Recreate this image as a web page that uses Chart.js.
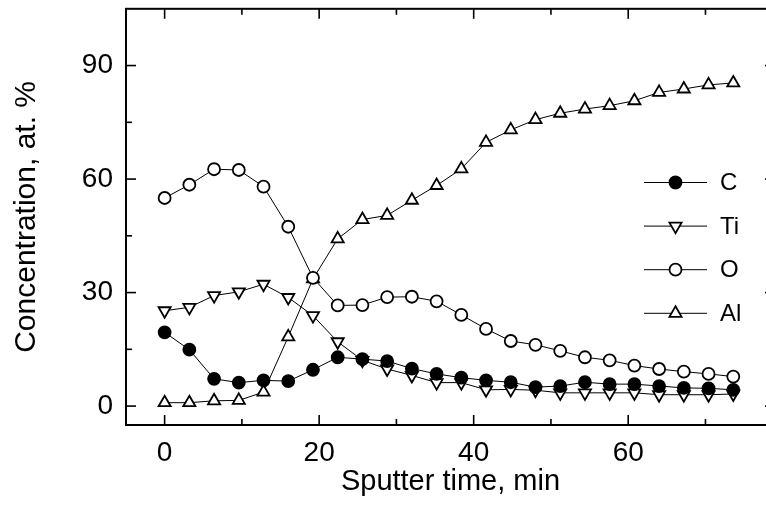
<!DOCTYPE html>
<html>
<head>
<meta charset="utf-8">
<script src="https://cdn.jsdelivr.net/npm/chart.js@4.4.1/dist/chart.umd.min.js"></script>
<style>
html,body{margin:0;padding:0;background:#fff;overflow:hidden;width:766px;height:506px}
canvas{display:block}
</style>
</head>
<body>
<canvas id="c" width="790" height="506"></canvas>
<script>
// ---- data ----
const sputterTime = [0, 3.2, 6.4, 9.6, 12.8, 16, 19.2, 22.4, 25.6, 28.8, 32, 35.2, 38.4, 41.6, 44.8, 48, 51.2, 54.4, 57.6, 60.8, 64, 67.2, 70.4, 73.6];
const carbon    = [19.5, 14.9, 7.2, 6.2, 6.8, 6.6, 9.6, 12.9, 12.4, 11.9, 9.9, 8.5, 7.5, 6.8, 6.3, 5.0, 5.3, 6.3, 5.8, 5.8, 5.3, 4.8, 4.7, 4.3];
const titanium  = [25.2, 26.1, 29.2, 30.2, 32.2, 28.7, 23.9, 17.0, 12.1, 9.8, 8.1, 6.2, 6.2, 4.3, 4.4, 4.2, 3.5, 3.5, 3.5, 3.5, 3.0, 3.0, 3.0, 3.2];
const oxygen    = [55.0, 58.5, 62.6, 62.4, 58.0, 47.4, 33.9, 26.6, 26.7, 28.8, 28.9, 27.7, 24.1, 20.4, 17.2, 16.2, 14.6, 12.9, 12.1, 10.7, 9.8, 9.1, 8.5, 7.8];
const aluminium = [0.9, 0.9, 1.4, 1.5, 3.7, 18.3, 33.6, 44.2, 49.3, 50.4, 54.4, 58.3, 62.7, 69.7, 73.0, 75.7, 77.4, 78.5, 79.4, 80.7, 82.9, 83.8, 84.9, 85.4];
const seriesLabels = ['C', 'Ti', 'O', 'Al'];
const xTickValues = [0, 20, 40, 60];
const xMinorTickValues = [10, 30, 50, 70];
const yTickValues = [0, 30, 60, 90];
const yMinorTickValues = [15, 45, 75];
const xTitle = 'Sputter time, min';
const yTitle = 'Concentration, at. %';

const FONT = '"Liberation Sans", Arial, Helvetica, sans-serif';
const toPoints = (ys) => sputterTime.map((t, i) => ({x: t, y: ys[i]}));

const styles = [
  {pointStyle: 'circle',   rotation: 0,   radius: 6, fill: '#000'},
  {pointStyle: 'triangle', rotation: 180, radius: 7, fill: '#fff'},
  {pointStyle: 'circle',   rotation: 0,   radius: 6, fill: '#fff'},
  {pointStyle: 'triangle', rotation: 0,   radius: 7, fill: '#fff'}
];
const allSeries = [carbon, titanium, oxygen, aluminium];

const datasets = allSeries.map((s, i) => ({
  label: seriesLabels[i],
  data: toPoints(s),
  showLine: true,
  borderColor: '#000',
  borderWidth: 1,
  pointStyle: styles[i].pointStyle,
  pointRotation: styles[i].rotation,
  pointRadius: styles[i].radius,
  pointBackgroundColor: styles[i].fill,
  pointBorderColor: '#000',
  pointBorderWidth: 1.8,
  tension: 0
}));

const framePlugin = {
  id: 'frameTicks',
  afterDatasetsDraw(chart) {
    const {ctx, chartArea: a, scales} = chart;
    const x = scales.x, y = scales.y;
    ctx.save();
    ctx.strokeStyle = '#000';
    ctx.lineCap = 'butt';
    const seg = (x1, y1, x2, y2) => { ctx.beginPath(); ctx.moveTo(x1, y1); ctx.lineTo(x2, y2); ctx.stroke(); };
    ctx.lineWidth = 1.6;
    const xt = (vals, len) => vals.forEach(v => {
      const p = x.getPixelForValue(v);
      seg(p, a.bottom, p, a.bottom - len);
      seg(p, a.top, p, a.top + len);
    });
    const yt = (vals, len) => vals.forEach(v => {
      const p = y.getPixelForValue(v);
      seg(a.left, p, a.left + len, p);
      seg(a.right, p, a.right - len, p);
    });
    xt(xTickValues, 10); xt(xMinorTickValues, 6);
    yt(yTickValues, 10); yt(yMinorTickValues, 6);
    ctx.lineWidth = 2;
    ctx.strokeRect(a.left, a.top, a.right - a.left, a.bottom - a.top);
    ctx.restore();
  }
};

const legendPlugin = {
  id: 'lineLegend',
  afterDraw(chart) {
    const {ctx} = chart;
    const x0 = 644, x1 = 707, xm = 675.5, xt = 720, y0 = 182.5, dy = 43.6;
    ctx.save();
    chart.data.datasets.forEach((ds, i) => {
      const yy = y0 + i * dy;
      ctx.strokeStyle = '#000';
      ctx.lineWidth = 1;
      ctx.beginPath(); ctx.moveTo(x0, yy); ctx.lineTo(x1, yy); ctx.stroke();
      ctx.fillStyle = ds.pointBackgroundColor;
      ctx.strokeStyle = '#000';
      ctx.lineWidth = ds.pointBorderWidth;
      Chart.helpers.drawPoint(ctx, {
        pointStyle: ds.pointStyle, rotation: ds.pointRotation,
        radius: ds.pointRadius, borderWidth: ds.pointBorderWidth
      }, xm, yy);
      ctx.fillStyle = '#000';
      ctx.font = '24px ' + FONT;
      ctx.textAlign = 'left';
      ctx.textBaseline = 'middle';
      ctx.fillText(ds.label, xt, yy + 1);
    });
    ctx.restore();
  }
};

new Chart(document.getElementById('c'), {
  type: 'scatter',
  data: {datasets},
  options: {
    responsive: false,
    animation: false,
    events: [],
    layout: {padding: {top: 7, right: 15, bottom: 0, left: 0}},
    plugins: {legend: {display: false}, tooltip: {enabled: false}},
    scales: {
      x: {
        type: 'linear', min: -5, max: 79,
        grid: {display: false, drawTicks: false},
        border: {display: false},
        afterBuildTicks: (axis) => { axis.ticks = xTickValues.map(v => ({value: v})); },
        afterFit: (axis) => { axis.height = 81; axis.paddingLeft = 0; axis.paddingRight = 0; },
        ticks: {color: '#000', padding: 11, font: {family: FONT, size: 28, lineHeight: 1.2}},
        title: {display: true, text: xTitle, color: '#000', padding: {top: 0, bottom: 7},
                font: {family: FONT, size: 29, lineHeight: 1.2}}
      },
      y: {
        type: 'linear', min: -5, max: 105,
        grid: {display: false, drawTicks: false},
        border: {display: false},
        afterBuildTicks: (axis) => { axis.ticks = yTickValues.map(v => ({value: v})); },
        afterFit: (axis) => { axis.width = 126; axis.paddingTop = 0; axis.paddingBottom = 0; },
        ticks: {color: '#000', padding: 13, font: {family: FONT, size: 28, lineHeight: 1.2}},
        title: {display: true, text: yTitle, color: '#000', padding: {top: 8.5, bottom: 0},
                font: {family: FONT, size: 30, lineHeight: 1.2}}
      }
    }
  },
  plugins: [framePlugin, legendPlugin]
});
</script>
</body>
</html>
